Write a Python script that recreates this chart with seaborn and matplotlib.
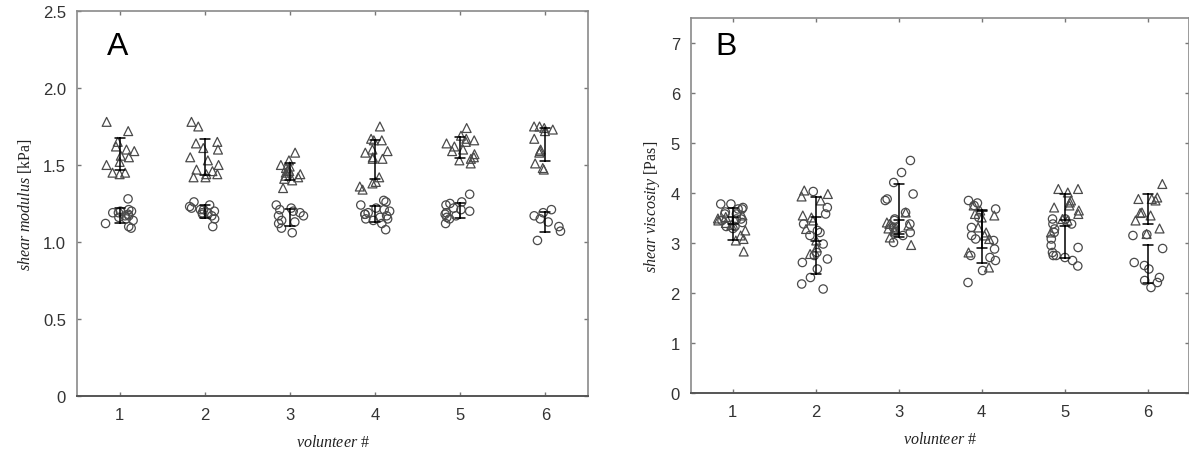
import numpy as np
import pandas as pd
import matplotlib
matplotlib.use("Agg")
import matplotlib.pyplot as plt
import seaborn as sns

volunteers = [1, 2, 3, 4, 5, 6]
x_ticklabels = ["1", "2", "3", "4", "5", "6"]

# Panel A: shear modulus [kPa]
modulus_tri = [
    [1.78, 1.72, 1.65, 1.60, 1.59, 1.56, 1.52, 1.50, 1.45, 1.44, 1.45, 1.55, 1.62],
    [1.78, 1.75, 1.65, 1.64, 1.61, 1.60, 1.55, 1.53, 1.50, 1.47, 1.44, 1.44, 1.42, 1.42, 1.46],
    [1.58, 1.53, 1.50, 1.49, 1.48, 1.46, 1.45, 1.44, 1.42, 1.41, 1.40, 1.35, 1.47, 1.43],
    [1.75, 1.67, 1.66, 1.66, 1.60, 1.59, 1.58, 1.54, 1.54, 1.55, 1.42, 1.39, 1.38, 1.36, 1.34],
    [1.74, 1.69, 1.67, 1.66, 1.65, 1.64, 1.62, 1.60, 1.59, 1.57, 1.55, 1.54, 1.53, 1.51],
    [1.75, 1.75, 1.74, 1.73, 1.72, 1.67, 1.60, 1.59, 1.58, 1.51, 1.48, 1.47],
]
modulus_circ = [
    [1.28, 1.21, 1.20, 1.19, 1.18, 1.20, 1.17, 1.17, 1.14, 1.12, 1.09, 1.19, 1.16, 1.10, 1.15],
    [1.26, 1.24, 1.22, 1.21, 1.20, 1.18, 1.19, 1.17, 1.15, 1.10, 1.23, 1.19, 1.21],
    [1.24, 1.22, 1.20, 1.19, 1.17, 1.17, 1.14, 1.13, 1.12, 1.09, 1.06, 1.21],
    [1.27, 1.26, 1.24, 1.22, 1.21, 1.20, 1.19, 1.18, 1.17, 1.15, 1.15, 1.14, 1.12, 1.08, 1.18, 1.16],
    [1.31, 1.26, 1.25, 1.24, 1.22, 1.20, 1.19, 1.18, 1.17, 1.16, 1.15, 1.12, 1.21],
    [1.21, 1.19, 1.17, 1.15, 1.13, 1.10, 1.07, 1.01],
]

# Panel B: shear viscosity [Pas]
viscosity_circ = [
    [3.78, 3.78, 3.68, 3.68, 3.58, 3.58, 3.48, 3.45, 3.41, 3.33, 3.33, 3.29, 3.48, 3.62, 3.71],
    [4.03, 3.71, 3.58, 3.38, 3.21, 3.15, 2.98, 2.81, 2.75, 2.68, 2.61, 2.48, 2.31, 2.18, 2.08, 3.25],
    [4.65, 4.41, 4.21, 3.98, 3.88, 3.85, 3.61, 3.48, 3.45, 3.38, 3.31, 3.21, 3.15, 3.01],
    [3.85, 3.75, 3.68, 3.51, 3.31, 3.08, 3.05, 3.15, 2.71, 2.75, 2.65, 2.45, 2.21, 2.88, 3.80],
    [3.38, 3.48, 3.48, 3.38, 3.21, 3.28, 3.08, 2.95, 2.91, 2.81, 2.71, 2.75, 2.75, 2.65, 2.54],
    [3.17, 3.15, 2.89, 2.61, 2.55, 2.48, 2.31, 2.21, 2.11, 2.25],
]
viscosity_tri = [
    [3.49, 3.55, 3.25, 3.36, 3.15, 3.08, 3.05, 2.83, 3.45, 3.52, 3.40],
    [4.05, 3.98, 3.93, 3.85, 3.55, 3.51, 3.45, 3.28, 3.05, 2.91, 2.78],
    [3.61, 3.29, 3.38, 3.25, 3.23, 3.11, 2.96, 3.35, 3.41, 3.29],
    [3.75, 3.65, 3.58, 3.51, 3.55, 3.31, 3.21, 3.15, 3.08, 2.81, 2.51],
    [4.08, 4.01, 4.08, 3.81, 3.85, 3.75, 3.71, 3.65, 3.58, 3.48, 3.45, 3.21],
    [4.18, 3.91, 3.88, 3.85, 3.88, 3.61, 3.60, 3.55, 3.45, 3.29, 3.18],
]

a_yticks = [0, 0.5, 1.0, 1.5, 2.0, 2.5]
a_yticklabels = ["0", "0.5", "1.0", "1.5", "2.0", "2.5"]
b_yticks = [0, 1, 2, 3, 4, 5, 6, 7]
b_yticklabels = ["0", "1", "2", "3", "4", "5", "6", "7"]


def to_frame(groups):
    rows = []
    for vol, vals in zip(volunteers, groups):
        for v in vals:
            rows.append({"volunteer": vol, "value": v})
    return pd.DataFrame(rows)


sns.set_theme(style="white")
plt.rcParams["font.family"] = ["Liberation Sans", "DejaVu Sans"]
plt.rcParams["mathtext.fontset"] = "custom"
plt.rcParams["mathtext.it"] = "Liberation Serif:italic"
plt.rcParams["mathtext.rm"] = "Liberation Serif"

fig = plt.figure(figsize=(11.89, 4.52), dpi=100)
axA = fig.add_axes([0.0648, 0.1217, 0.4297, 0.8518])
axB = fig.add_axes([0.5812, 0.1283, 0.4190, 0.8297])

edge = "#4a4a4a"
np.random.seed(7)


def draw(ax, tri, circ, ylim, yticks, yticklabels, ylabel, letter, letter_xy):
    for groups, marker, size in ((tri, "^", 6.4), (circ, "o", 6.0)):
        df = to_frame(groups)
        n0 = len(ax.collections)
        sns.stripplot(data=df, x="volunteer", y="value", native_scale=True,
                      jitter=0.18, marker=marker, size=size, color=edge,
                      edgecolor=edge, linewidth=0.9, ax=ax, zorder=3)
        for c in ax.collections[n0:]:
            c.set_facecolor("none")
            c.set_edgecolor(edge)
        sns.pointplot(data=df, x="volunteer", y="value", native_scale=True,
                      errorbar="sd", capsize=0.12, linestyle="none", marker="",
                      color="black", err_kws={"linewidth": 1.1}, ax=ax, zorder=4)
    ax.set_xlim(0.5, 6.5)
    ax.set_ylim(*ylim)
    ax.set_xticks(volunteers)
    ax.set_xticklabels(x_ticklabels)
    ax.set_yticks(yticks)
    ax.set_yticklabels(yticklabels)
    ax.tick_params(direction="in", length=3, width=1, color="#777777",
                   labelsize=12, labelcolor="#333333", top=True, right=True,
                   bottom=True, left=True, pad=8)
    for s in ax.spines.values():
        s.set_visible(True)
        s.set_color("#8a8a8a")
        s.set_linewidth(1.2)
    ax.spines["bottom"].set_color("#555555")
    ax.spines["bottom"].set_linewidth(1.4)
    ax.set_xlabel(r"$\it{volunteer\ \#}$", fontsize=11.5, color="#222222", labelpad=8)
    ax.set_ylabel(ylabel, fontsize=11.5, color="#222222", family="Liberation Serif", labelpad=6)
    ax.text(letter_xy[0], letter_xy[1], letter, fontsize=23, color="black",
            family="Liberation Sans", ha="left", va="baseline")
    ax.grid(False)


draw(axA, modulus_tri, modulus_circ, (0, 2.5), a_yticks, a_yticklabels,
     r"$\it{shear\ modulus}$ [kPa]", "A", (0.85, 2.22))
draw(axB, viscosity_tri, viscosity_circ, (0, 7.5), b_yticks, b_yticklabels,
     r"$\it{shear\ viscosity}$ [Pas]", "B", (0.79, 6.78))

fig.savefig("out.png", dpi=100)
